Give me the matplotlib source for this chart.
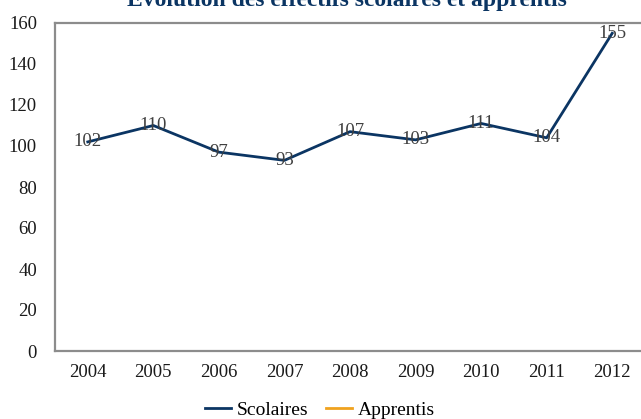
import numpy as np
import matplotlib
matplotlib.use("Agg")
import matplotlib.pyplot as plt

years = ["2004", "2005", "2006", "2007", "2008", "2009", "2010", "2011", "2012"]
scolaires = [102, 110, 97, 93, 107, 103, 111, 104, 155]
apprentis = [np.nan] * len(years)

navy = "#0b3563"
orange = "#f0a21e"
grey = "#8c8c8c"

plt.rcParams["font.family"] = ["Liberation Serif", "DejaVu Serif"]

fig = plt.figure(figsize=(6.41, 4.19), dpi=100)
ax = fig.add_axes([55 / 641, 68 / 419, 590 / 641, 328 / 419])

x = np.arange(len(years))
ax.plot(x, scolaires, color=navy, lw=2, label="Scolaires")
ax.plot(x, apprentis, color=orange, lw=2, label="Apprentis")

for xi, v in zip(x, scolaires):
    ax.text(xi, v, str(v), ha="center", va="center", fontsize=13.5, color="#404040")

ax.set_xlim(-0.5, len(years) - 0.5)
ax.set_ylim(0, 160)
ax.set_yticks(range(0, 161, 20))
ax.set_xticks(x)
ax.set_xticklabels(years)
ax.tick_params(length=0, labelsize=13.5, colors="#1a1a1a")
ax.tick_params(axis="x", pad=9)
ax.tick_params(axis="y", pad=13)

for side in ["left", "top", "bottom", "right"]:
    ax.spines[side].set_color(grey)
    ax.spines[side].set_linewidth(1.6)

fig.text(347 / 641, 413 / 419, "Évolution des effectifs scolaires et apprentis",
         ha="center", va="baseline", fontsize=17, fontweight="bold", color=navy)

fig.legend(loc="center", bbox_to_anchor=(320 / 641, 9 / 419), ncol=2, frameon=False,
           fontsize=14, handlelength=1.35, handletextpad=0.3, columnspacing=0.9)

fig.savefig("out.png", dpi=100)
